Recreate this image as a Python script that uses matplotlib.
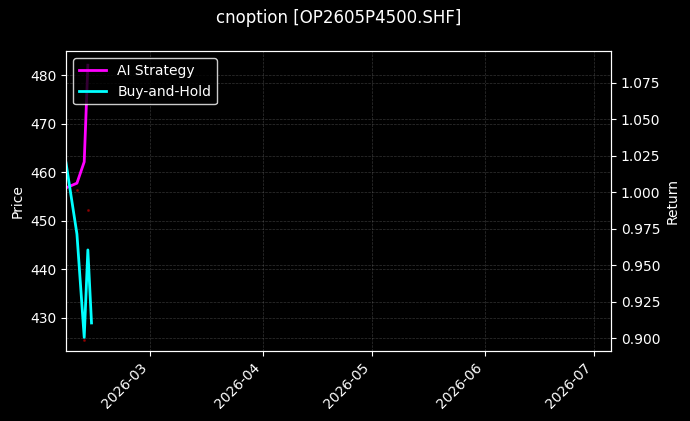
import matplotlib
matplotlib.use("Agg")
import matplotlib.pyplot as plt
import matplotlib.dates as mdates
import pandas as pd

plt.style.use("dark_background")

title = "cnoption [OP2605P4500.SHF]"
dates = pd.to_datetime(["2026-02-06", "2026-02-09", "2026-02-11", "2026-02-12", "2026-02-13"])
ai_dates = dates[:4]
ai_strategy = [1.003, 1.0062, 1.0208, 1.087]
buy_hold = [1.0201, 0.9714, 0.9006, 0.9605, 0.9105]
price_dates = pd.to_datetime(["2026-02-09", "2026-02-11", "2026-02-12"])
price_pts = [456.3, 425.5, 452.2]

fig = plt.figure(figsize=(6.9, 4.21), dpi=100, facecolor="black")
ax = fig.add_axes([66/690, 1-350.7/421, (611.2-66)/690, (350.7-51.3)/421])
ax.set_facecolor("black")
ax2 = ax.twinx()

ax.plot(price_dates, price_pts, linestyle="none", marker="o", markersize=1.2,
        color="red", alpha=0.35)
ax.set_ylim(423.2, 484.9)
ax.set_ylabel("Price", color="white")
ax.grid(True, linestyle="--", linewidth=0.5, color="gray", alpha=0.4)

l1, = ax2.plot(ai_dates, ai_strategy, color="#ff00ff", linewidth=2, label="AI Strategy")
l2, = ax2.plot(dates, buy_hold, color="#00ffff", linewidth=2, label="Buy-and-Hold")
ax2.set_ylim(0.8915, 1.0965)
ax2.set_ylabel("Return", color="white")
ax2.grid(True, linestyle="--", linewidth=0.5, color="gray", alpha=0.4)

ax.set_xlim(pd.Timestamp("2026-02-06"), pd.Timestamp("2026-07-05 16:00"))
ax.xaxis.set_major_locator(mdates.MonthLocator())
ax.xaxis.set_major_formatter(mdates.DateFormatter("%Y-%m"))
for lab in ax.get_xticklabels():
    lab.set_rotation(45)
    lab.set_ha("right")

leg = ax2.legend(handles=[l1, l2], loc="upper left", facecolor="black",
                 edgecolor="white", framealpha=0.8)

fig.text(338.5/690, 1-18/421, title, ha="center", va="center", fontsize=12, color="white")

fig.savefig("out.png", dpi=100, facecolor="black")
